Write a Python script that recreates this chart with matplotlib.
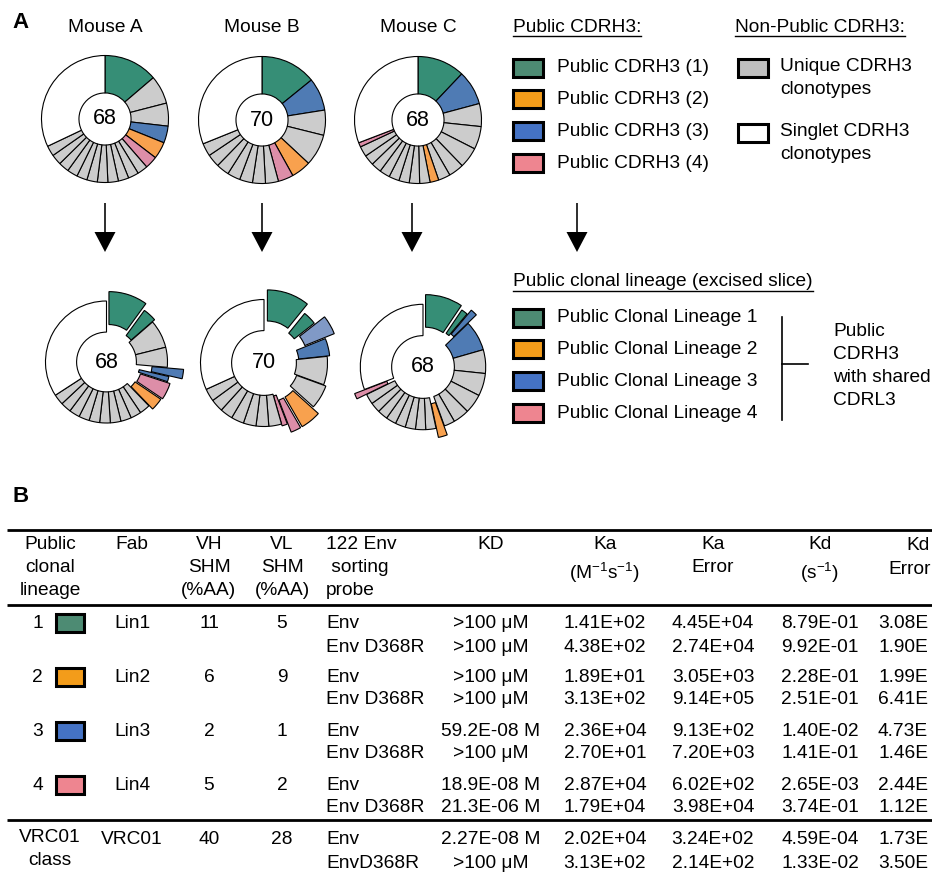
import numpy as np
import matplotlib
matplotlib.use('Agg')
import matplotlib.pyplot as plt
from matplotlib.patches import Wedge, Rectangle, FancyArrow

plt.rcParams['font.family'] = ['Liberation Sans', 'DejaVu Sans']
plt.rcParams['mathtext.fontset'] = 'custom'
plt.rcParams['mathtext.rm'] = 'Liberation Sans'
plt.rcParams['mathtext.it'] = 'Liberation Sans:italic'

# ---------------- data ----------------
mice = ['Mouse A', 'Mouse B', 'Mouse C']
totals = [68, 70, 68]

# upper pies: slice angular sizes (clockwise from 12 o'clock) and category
upperA_sizes = [49.5, 26, 21, 15.5, 15.5, 11.5] + [9.6] * 11 + [115.4]
upperA_cats = ['G', 'U', 'U', 'B', 'O', 'P'] + ['U'] * 11 + ['S']
upperB_sizes = [51, 30, 23, 29, 18, 14] + [11.86] * 7 + [112]
upperB_cats = ['G', 'B', 'U', 'U', 'O', 'P'] + ['U'] * 7 + ['S']
upperC_sizes = [43.5, 31.5, 21, 21, 19, 14, 11, 8] + [9.5] * 8 + [4, 111]
upperC_cats = ['G', 'B', 'U', 'U', 'U', 'U', 'U', 'O'] + ['U'] * 8 + ['P', 'S']

# lower pies (public clonal lineage slices excised)
lowerA_sizes = [36, 13, 27, 19, 8, 5, 16, 12] + [10.1] * 10 + [123]
lowerA_cats = ['G', 'G', 'U', 'U', 'B', 'B', 'P', 'O'] + ['U'] * 10 + ['S']
lowerA_explode = [0.13, 0.05, 0, 0, 0.15, 0.05, 0.10, 0.08] + [0] * 10 + [0]
lowerA_rin = [0.49, 0.49, 0.49, 0.49, 0.60, 0.50, 0.49, 0.49] + [0.49] * 10 + [0.49]
lowerA_rout = [1.03, 1.0, 1.0, 1.0, 1.12, 1.0, 1.0, 1.0] + [1.0] * 10 + [1.0]

lowerB_sizes = [39, 13, 16, 16, 26, 22, 18, 9, 5] + [11.64] * 7 + [114.5]
lowerB_cats = ['G', 'G', 'L', 'B', 'U', 'U', 'O', 'P', 'P'] + ['U'] * 7 + ['S']
lowerB_explode = [0.16, 0.06, 0.10, 0.04, 0, 0.04, 0.12, 0.12, 0.03] + [0] * 7 + [0]
lowerB_rin = [0.51, 0.55, 0.60, 0.51, 0.51, 0.51, 0.51, 0.51, 0.51] + [0.51] * 7 + [0.51]
lowerB_rout = [1.0, 0.95, 1.10, 1.0, 1.0, 1.0, 1.05, 1.05, 1.0] + [1.0] * 7 + [1.0]

lowerC_sizes = [34, 6, 6, 28, 22, 21, 18, 15, 10, 8] + [9.5] * 8 + [5, 111]
lowerC_cats = ['G', 'G', 'B', 'B', 'U', 'U', 'U', 'U', 'U', 'O'] + ['U'] * 8 + ['P', 'S']
lowerC_explode = [0.14, 0.10, 0.14, 0, 0, 0, 0, 0, 0, 0.10] + [0] * 8 + [0.12, 0]
lowerC_rin = [0.50, 0.55, 0.55, 0.50, 0.50, 0.50, 0.50, 0.50, 0.50, 0.50] + [0.50] * 8 + [0.50, 0.50]
lowerC_rout = [1.02, 1.0, 1.05, 1.0, 1.0, 1.0, 1.0, 1.0, 1.0, 1.05] + [1.0] * 8 + [1.05, 1.0]

legend1_title = 'Public CDRH3:'
legend1_labels = ['Public CDRH3 (1)', 'Public CDRH3 (2)', 'Public CDRH3 (3)', 'Public CDRH3 (4)']
legend2_title = 'Non-Public CDRH3:'
legend2_labels = ['Unique CDRH3\nclonotypes', 'Singlet CDRH3\nclonotypes']
legend3_title = 'Public clonal lineage (excised slice)'
legend3_labels = ['Public Clonal Lineage 1', 'Public Clonal Lineage 2',
                  'Public Clonal Lineage 3', 'Public Clonal Lineage 4']
bracket_label = 'Public\nCDRH3\nwith shared\nCDRL3'

# table
headers = ['Public\nclonal\nlineage', 'Fab', 'VH\nSHM\n(%AA)', 'VL\nSHM\n(%AA)',
           '122 Env\n sorting\nprobe', 'KD', 'Ka\n(M$^{\\mathregular{-1}}$s$^{\\mathregular{-1}}$)',
           'Ka\nError', 'Kd\n(s$^{\\mathregular{-1}}$)', 'Kd\nError']
lineages = ['1', '2', '3', '4', 'VRC01\nclass']
fabs = ['Lin1', 'Lin2', 'Lin3', 'Lin4', 'VRC01']
vh_shm = [11, 6, 2, 5, 40]
vl_shm = [5, 9, 1, 2, 28]
probes = ['Env', 'Env D368R'] * 4 + ['Env', 'EnvD368R']
KD = ['>100 μM', '>100 μM', '>100 μM', '>100 μM', '59.2E-08 M', '>100 μM',
      '18.9E-08 M', '21.3E-06 M', '2.27E-08 M', '>100 μM']
Ka = ['1.41E+02', '4.38E+02', '1.89E+01', '3.13E+02', '2.36E+04', '2.70E+01',
      '2.87E+04', '1.79E+04', '2.02E+04', '3.13E+02']
Ka_err = ['4.45E+04', '2.74E+04', '3.05E+03', '9.14E+05', '9.13E+02', '7.20E+03',
          '6.02E+02', '3.98E+04', '3.24E+02', '2.14E+02']
Kd = ['8.79E-01', '9.92E-01', '2.28E-01', '2.51E-01', '1.40E-02', '1.41E-01',
      '2.65E-03', '3.74E-01', '4.59E-04', '1.33E-02']
Kd_err = ['3.08E', '1.90E', '1.99E', '6.41E', '4.73E', '1.46E', '2.44E', '1.12E', '1.73E', '3.50E']

# ---------------- style ----------------
PIE_COL = {'G': '#368e76', 'O': '#f8a14e', 'B': '#4f7bb4', 'P': '#dd8ea8',
           'U': '#cccccc', 'S': '#ffffff', 'L': '#8099c6'}
LEG_COL = {'G': '#4d8b73', 'O': '#f39c1a', 'B': '#4472c4', 'P': '#ee8590',
           'U': '#bfbfbf', 'S': '#ffffff'}
FS = 13.8
LS = 1.45

W, H = 932, 875
fig = plt.figure(figsize=(W / 100, H / 100), dpi=100)
ax = fig.add_axes([0, 0, 1, 1])
ax.set_xlim(0, W)
ax.set_ylim(H, 0)
ax.axis('off')


def ring(cx, cy, R, sizes, cats, rin, explode=None, rins=None, routs=None):
    sizes = np.asarray(sizes, float)
    ang = np.concatenate([[0], np.cumsum(sizes)]) / sizes.sum() * 360.0
    n = len(sizes)
    explode = explode if explode is not None else [0] * n
    rins = rins if rins is not None else [rin] * n
    routs = routs if routs is not None else [1.0] * n
    for i in range(n):
        p1, p2 = ang[i], ang[i + 1]
        pm = np.deg2rad((p1 + p2) / 2)
        d = explode[i] * R
        ox, oy = cx + d * np.sin(pm), cy - d * np.cos(pm)
        ro, ri = R * routs[i], R * rins[i]
        ax.add_patch(Wedge((ox, oy), ro, p1 - 90, p2 - 90, width=ro - ri,
                           facecolor=PIE_COL[cats[i]], edgecolor='black', lw=0.8))


def text(x, y, s, **kw):
    kw.setdefault('fontsize', FS)
    kw.setdefault('va', 'center')
    return ax.text(x, y, s, **kw)


# panel letters
text(12, 22, 'A', fontsize=16, fontweight='bold', ha='left')
text(12, 497, 'B', fontsize=16, fontweight='bold', ha='left')

# upper pies
upper = [(upperA_sizes, upperA_cats), (upperB_sizes, upperB_cats), (upperC_sizes, upperC_cats)]
upper_centers = [(105, 119), (262, 120), (418, 120)]
for (sz, ct), (cx, cy), name, tot in zip(upper, upper_centers, mice, totals):
    ring(cx, cy, 63.5, sz, ct, 0.41)
    text(cx, 28, name, ha='center')
    text(cx, cy, str(tot), ha='center', fontsize=15.5)

# arrows
for x in [105, 262, 412, 577]:
    ax.add_patch(FancyArrow(x, 203, 0, 49, width=1.6, head_width=21, head_length=20,
                            length_includes_head=True, color='black', lw=0))

# lower pies
lower = [(lowerA_sizes, lowerA_cats, lowerA_explode, lowerA_rin, lowerA_rout),
         (lowerB_sizes, lowerB_cats, lowerB_explode, lowerB_rin, lowerB_rout),
         (lowerC_sizes, lowerC_cats, lowerC_explode, lowerC_rin, lowerC_rout)]
lower_centers = [(106.5, 362), (264, 363), (423, 367)]
lower_R = [61, 63.5, 62.7]
for (sz, ct, ex, ri, ro), (cx, cy), R, tot in zip(lower, lower_centers, lower_R, totals):
    ring(cx, cy, R, sz, ct, 0.5, ex, ri, ro)
    text(cx, cy, str(tot), ha='center', fontsize=15.5)

fig.canvas.draw()
renderer = fig.canvas.get_renderer()
inv = ax.transData.inverted()


def underlined(x, y, s):
    t = text(x, y, s, ha='left')
    bb = t.get_window_extent(renderer)
    (x0, _), (x1, _) = inv.transform([[bb.x0, bb.y0], [bb.x1, bb.y1]])
    ax.plot([x0, x1], [y + 9, y + 9], color='black', lw=1.0)


def swatch(x, y, cat):
    ax.add_patch(Rectangle((x, y - 9), 30, 18, facecolor=LEG_COL[cat],
                           edgecolor='black', lw=2.2))


# legend 1
underlined(513, 27, legend1_title)
for lab, cat, y in zip(legend1_labels, ['G', 'O', 'B', 'P'], [68, 99, 131, 163]):
    swatch(513, y, cat)
    text(557, y, lab, ha='left')

# legend 2
underlined(735, 27, legend2_title)
for lab, cat, y in zip(legend2_labels, ['U', 'S'], [68, 133]):
    swatch(738, y, cat)
    text(780, y + 10, lab, ha='left', linespacing=LS)

# legend 3
underlined(513, 282, legend3_title)
for lab, cat, y in zip(legend3_labels, ['G', 'O', 'B', 'P'], [318, 349, 381, 413]):
    swatch(513, y, cat)
    text(557, y, lab, ha='left')
ax.plot([782, 782], [317, 420], color='black', lw=1.2)
ax.plot([782, 808], [364, 364], color='black', lw=1.2)
text(833, 366, bracket_label, ha='left', linespacing=LS)

# ---------------- table ----------------
for y in [530, 605, 820]:
    ax.plot([7, W], [y, y], color='black', lw=2.0, solid_capstyle='butt')

col_x = [50, 132, 209, 282, 326, 491, 605, 713, 820, 878]
col_ha = ['center', 'center', 'center', 'center', 'left', 'center', 'center', 'center', 'center', 'left']
header_y = 546
for hdr, x, ha in zip(headers, col_x, col_ha):
    if hdr == 'Kd\nError':
        kd_lines = hdr.split('\n')
        text(906, header_y, kd_lines[0], ha='left')
        text(888, header_y + 24, kd_lines[1], ha='left')
        continue
    ax.text(x, header_y - 10, hdr, fontsize=FS, ha=ha, va='top', linespacing=LS)

row_y = [623, 647, 677, 700, 731, 754, 785, 808, 839, 863]
for g in range(5):
    y = row_y[2 * g]
    if g < 4:
        text(43, y, lineages[g], ha='right')
        ax.add_patch(Rectangle((56, y - 9), 28, 18, facecolor=LEG_COL[['G', 'O', 'B', 'P'][g]],
                               edgecolor='black', lw=2.2))
    else:
        ax.text(50, y - 10, lineages[g], fontsize=FS, ha='center', va='top', linespacing=LS)
    text(col_x[1], y, fabs[g], ha='center')
    text(col_x[2], y, str(vh_shm[g]), ha='center')
    text(col_x[3], y, str(vl_shm[g]), ha='center')

for i, y in enumerate(row_y):
    text(col_x[4], y, probes[i], ha='left')
    text(col_x[5], y, KD[i], ha='center')
    text(col_x[6], y, Ka[i], ha='center')
    text(col_x[7], y, Ka_err[i], ha='center')
    text(col_x[8], y, Kd[i], ha='center')
    text(col_x[9], y, Kd_err[i], ha='left')

fig.savefig('out.png', dpi=100)
